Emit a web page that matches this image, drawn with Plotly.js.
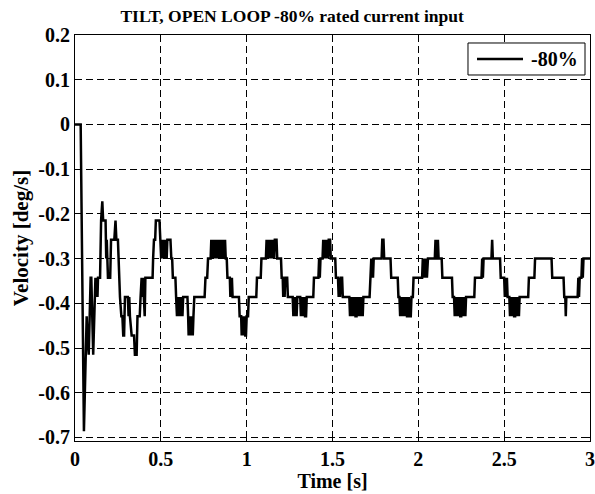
<!DOCTYPE html>
<html>
<head>
<meta charset="utf-8">
<script src="https://cdn.plot.ly/plotly-3.0.1.min.js"></script>
<style>html,body{margin:0;padding:0;background:#fff;}#chart{width:595px;height:494px;}</style>
</head>
<body>
<div id="chart"></div>
<script>
// Time [s] and velocity [deg/s] samples
const samples = [
[0,0],[0.033,0],[0.052,-0.686],[0.068,-0.429],[0.072,-0.472],[0.080,-0.515],[0.091,-0.343],[0.095,-0.343],[0.106,-0.515],[0.115,-0.386],[0.119,-0.343],[0.123,-0.386],[0.127,-0.343],[0.131,-0.386],[0.134,-0.343],[0.146,-0.343],[0.152,-0.215],[0.159,-0.172],[0.164,-0.215],[0.178,-0.215],[0.182,-0.300],[0.185,-0.258],[0.189,-0.300],[0.192,-0.343],[0.205,-0.343],[0.210,-0.258],[0.229,-0.258],[0.236,-0.215],[0.241,-0.258],[0.250,-0.258],[0.262,-0.386],[0.270,-0.429],[0.276,-0.429],[0.281,-0.472],[0.286,-0.472],[0.291,-0.386],[0.308,-0.386],[0.312,-0.429],[0.316,-0.386],[0.320,-0.429],[0.330,-0.472],[0.344,-0.472],[0.349,-0.515],[0.359,-0.515],[0.364,-0.429],[0.377,-0.429],[0.382,-0.386],[0.388,-0.343],[0.393,-0.386],[0.397,-0.343],[0.401,-0.386],[0.406,-0.429],[0.410,-0.343],[0.452,-0.343],
[0.455,-0.300],[0.460,-0.258],[0.467,-0.258],[0.471,-0.215],[0.492,-0.215],[0.496,-0.258],
[0.502,-0.300],[0.505,-0.258],[0.508,-0.300],[0.511,-0.258],[0.514,-0.300],[0.517,-0.258],[0.520,-0.300],[0.524,-0.258],[0.527,-0.300],[0.531,-0.258],[0.534,-0.300],[0.538,-0.258],[0.556,-0.258],[0.561,-0.300],[0.566,-0.300],[0.570,-0.343],[0.585,-0.343],[0.589,-0.386],
[0.594,-0.429],[0.598,-0.386],[0.601,-0.429],[0.605,-0.386],[0.609,-0.429],[0.613,-0.386],[0.617,-0.429],[0.622,-0.386],[0.626,-0.429],[0.630,-0.386],[0.655,-0.386],[0.659,-0.429],[0.662,-0.472],[0.665,-0.429],[0.668,-0.472],[0.672,-0.429],[0.675,-0.472],[0.679,-0.429],[0.682,-0.472],[0.686,-0.472],[0.690,-0.429],[0.695,-0.386],[0.755,-0.386],[0.760,-0.343],[0.770,-0.343],[0.775,-0.300],[0.790,-0.300],
[0.794,-0.258],[0.798,-0.300],[0.801,-0.258],[0.805,-0.300],[0.809,-0.258],[0.813,-0.300],[0.816,-0.258],[0.820,-0.300],[0.824,-0.258],[0.828,-0.300],[0.831,-0.258],[0.835,-0.300],[0.839,-0.258],[0.843,-0.300],[0.846,-0.258],[0.850,-0.300],[0.854,-0.258],[0.858,-0.300],[0.862,-0.258],[0.866,-0.300],[0.870,-0.258],[0.874,-0.258],[0.878,-0.300],[0.884,-0.300],[0.888,-0.343],[0.902,-0.343],[0.905,-0.386],[0.908,-0.343],[0.911,-0.386],[0.914,-0.343],[0.918,-0.386],[0.955,-0.386],[0.959,-0.429],[0.968,-0.429],[0.971,-0.472],[0.974,-0.429],[0.977,-0.472],[0.980,-0.429],[0.984,-0.472],[0.988,-0.429],[0.992,-0.472],[0.996,-0.472],[1.000,-0.429],[1.008,-0.429],[1.012,-0.386],[1.056,-0.386],[1.060,-0.343],[1.082,-0.343],[1.086,-0.300],[1.112,-0.300],
[1.116,-0.258],[1.120,-0.300],[1.124,-0.258],[1.128,-0.300],[1.131,-0.258],[1.135,-0.300],[1.139,-0.258],[1.143,-0.300],[1.147,-0.258],[1.151,-0.300],[1.155,-0.258],[1.160,-0.300],[1.164,-0.258],[1.174,-0.258],[1.178,-0.300],[1.200,-0.300],[1.204,-0.343],[1.210,-0.343],[1.213,-0.386],[1.217,-0.343],[1.221,-0.386],[1.225,-0.343],[1.236,-0.343],[1.240,-0.386],[1.268,-0.386],[1.272,-0.429],[1.276,-0.386],[1.279,-0.429],[1.283,-0.386],[1.287,-0.429],[1.291,-0.429],[1.295,-0.386],[1.312,-0.386],[1.316,-0.429],[1.320,-0.386],[1.324,-0.429],[1.328,-0.386],[1.332,-0.429],[1.336,-0.386],[1.340,-0.429],[1.346,-0.429],[1.350,-0.386],[1.388,-0.386],[1.392,-0.343],[1.418,-0.343],[1.422,-0.300],[1.426,-0.343],[1.430,-0.300],[1.442,-0.300],[1.446,-0.258],[1.450,-0.300],[1.454,-0.258],[1.458,-0.300],[1.462,-0.258],[1.466,-0.300],[1.470,-0.258],[1.474,-0.300],[1.478,-0.258],[1.486,-0.258],[1.490,-0.300],[1.516,-0.300],[1.520,-0.343],[1.532,-0.343],[1.536,-0.386],[1.540,-0.343],[1.544,-0.386],[1.548,-0.343],[1.556,-0.343],[1.560,-0.386],
[1.598,-0.386],[1.602,-0.429],[1.606,-0.386],[1.610,-0.429],[1.614,-0.386],[1.618,-0.429],[1.622,-0.386],[1.626,-0.429],[1.630,-0.386],[1.634,-0.429],[1.640,-0.429],[1.644,-0.386],[1.650,-0.429],[1.656,-0.386],[1.662,-0.429],[1.668,-0.386],[1.676,-0.429],[1.680,-0.386],[1.716,-0.386],[1.720,-0.343],[1.726,-0.300],[1.729,-0.343],[1.733,-0.300],[1.736,-0.343],[1.740,-0.300],[1.786,-0.300],[1.790,-0.258],[1.797,-0.258],[1.801,-0.300],[1.838,-0.300],[1.842,-0.343],[1.880,-0.343],[1.884,-0.386],[1.890,-0.386],[1.894,-0.429],[1.898,-0.386],[1.902,-0.429],[1.906,-0.386],[1.910,-0.429],[1.914,-0.386],[1.918,-0.429],[1.922,-0.386],[1.926,-0.429],[1.930,-0.386],[1.934,-0.429],[1.940,-0.429],[1.944,-0.386],[1.950,-0.429],[1.956,-0.429],[1.960,-0.386],[1.968,-0.386],[1.972,-0.343],
[2.022,-0.343],[2.026,-0.300],[2.030,-0.343],[2.036,-0.300],[2.040,-0.343],[2.046,-0.300],[2.050,-0.343],[2.056,-0.300],[2.096,-0.300],[2.100,-0.258],[2.104,-0.300],[2.110,-0.300],[2.114,-0.258],[2.118,-0.300],[2.136,-0.300],[2.140,-0.343],[2.196,-0.343],[2.200,-0.386],[2.208,-0.386],[2.212,-0.429],[2.216,-0.386],[2.220,-0.429],[2.224,-0.386],[2.228,-0.429],[2.232,-0.386],[2.236,-0.429],[2.240,-0.386],[2.244,-0.429],[2.250,-0.429],[2.254,-0.386],[2.262,-0.429],[2.266,-0.386],[2.274,-0.429],[2.278,-0.386],[2.326,-0.386],[2.330,-0.343],[2.368,-0.343],[2.372,-0.300],[2.376,-0.343],[2.380,-0.300],[2.426,-0.300],[2.430,-0.258],[2.434,-0.300],[2.476,-0.300],[2.480,-0.343],[2.500,-0.343],[2.504,-0.386],[2.508,-0.343],[2.512,-0.386],[2.516,-0.343],[2.520,-0.386],[2.530,-0.386],[2.534,-0.429],[2.538,-0.386],[2.542,-0.429],[2.546,-0.386],[2.550,-0.429],[2.554,-0.386],[2.558,-0.429],[2.564,-0.429],[2.568,-0.386],[2.576,-0.429],[2.580,-0.386],[2.586,-0.429],[2.590,-0.386],[2.640,-0.386],[2.644,-0.343],[2.676,-0.343],[2.680,-0.300],[2.776,-0.300],[2.780,-0.343],[2.846,-0.343],[2.850,-0.386],[2.856,-0.386],[2.859,-0.429],[2.862,-0.386],[2.928,-0.386],[2.932,-0.343],[2.936,-0.386],[2.940,-0.343],[2.950,-0.343],[2.954,-0.300],[2.958,-0.343],[2.962,-0.300],[3.000,-0.300]
];
const timeS = samples.map(p => p[0]);
const velocity = samples.map(p => p[1]);
const seriesName = '-80%';
const xTicks = [0, 0.5, 1, 1.5, 2, 2.5, 3];
const xTickText = ['0', '0.5', '1', '1.5', '2', '2.5', '3'];
const yTicks = [0.2, 0.1, 0, -0.1, -0.2, -0.3, -0.4, -0.5, -0.6, -0.7];
const yTickText = ['0.2', '0.1', '0', '-0.1', '-0.2', '-0.3', '-0.4', '-0.5', '-0.6', '-0.7'];
const titleText = 'TILT, OPEN LOOP -80% rated current input';
const xTitle = 'Time [s]';
const yTitle = 'Velocity [deg/s]';

const F = 'Liberation Serif, Times New Roman, serif';
const axisCommon = {
  showline: true, linecolor: '#000', linewidth: 1, mirror: 'ticks',
  ticks: 'inside', ticklen: 5, tickcolor: '#000', tickwidth: 1,
  showgrid: true, gridcolor: '#000', gridwidth: 1, griddash: '7px,4px',
  zeroline: false,
  tickfont: {family: F, size: 20, color: '#000', weight: 700}
};
const lineStyle = {color: '#000', width: 2.5};
const layout = {
  width: 595, height: 494,
  margin: {l: 75, r: 5, t: 35, b: 53},
  paper_bgcolor: '#fff', plot_bgcolor: '#fff',
  title: {text: titleText, font: {family: F, size: 17.5, color: '#000', weight: 700},
          xref: 'container', x: 0.491, xanchor: 'center', yref: 'container', y: 0.968, yanchor: 'middle'},
  xaxis: Object.assign({}, axisCommon, {range: [0, 3], tickvals: xTicks, ticktext: xTickText,
    title: {text: xTitle, font: {family: F, size: 20, color: '#000', weight: 700}, standoff: 2}}),
  yaxis: Object.assign({}, axisCommon, {range: [-0.708, 0.2], tickvals: yTicks, ticktext: yTickText,
    title: {text: yTitle, font: {family: F, size: 21, color: '#000', weight: 700}, standoff: 3}}),
  showlegend: false,
  // legend box drawn to match the reference's MATLAB legend (line sample is longer than Plotly's)
  shapes: [
    {type: 'rect', xref: 'paper', yref: 'paper', x0: 0.7631, x1: 0.9903, y0: 0.9015, y1: 0.9803,
     line: {color: '#000', width: 1}, fillcolor: '#fff', layer: 'above'},
    {type: 'line', xref: 'paper', yref: 'paper', x0: 0.7806, x1: 0.8699, y0: 0.9409, y1: 0.9409,
     line: lineStyle, layer: 'above'}
  ],
  annotations: [
    {text: seriesName, xref: 'paper', yref: 'paper', x: 0.8816, y: 0.9409, xanchor: 'left', yanchor: 'middle',
     showarrow: false, font: {family: F, size: 20, color: '#000', weight: 700}}
  ]
};
const data = [{x: timeS, y: velocity, type: 'scatter', mode: 'lines', name: seriesName, line: lineStyle}];
Plotly.newPlot('chart', data, layout, {staticPlot: true, displayModeBar: false});
</script>
</body>
</html>
